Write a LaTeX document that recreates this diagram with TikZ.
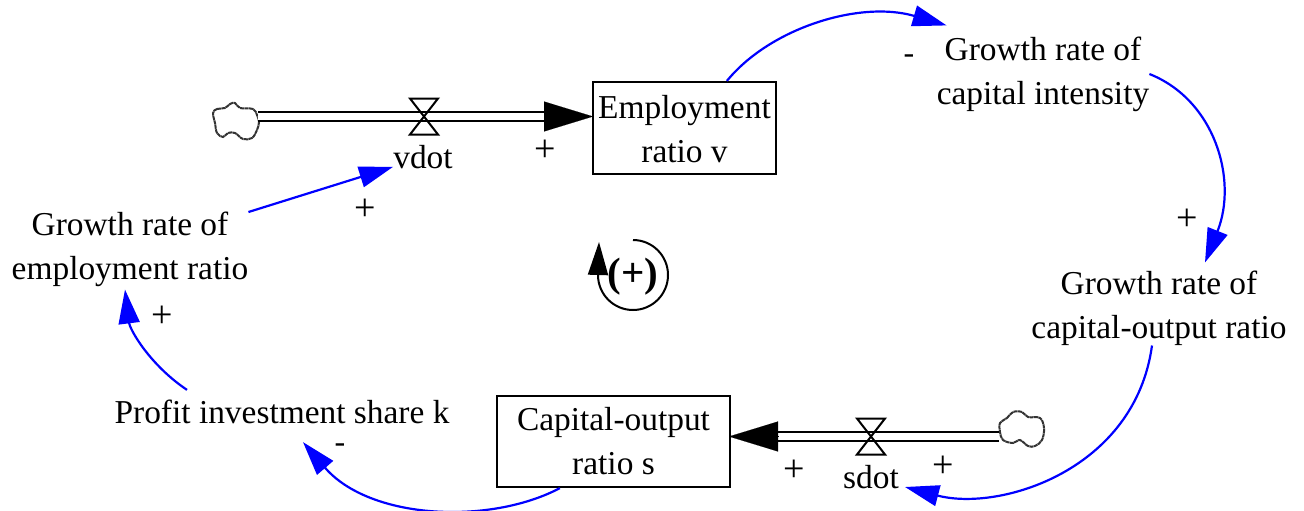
\documentclass[tikz,border=0pt]{standalone}
\usepackage{fontspec}
\setmainfont{Liberation Serif}
\usetikzlibrary{arrows.meta}
\tikzset{
  x=1pt,y=-1pt,
  lbl/.style={inner sep=0pt,align=center,font=\fontsize{33.4}{44}\selectfont},
  stock/.style={draw,line width=2.2pt,inner sep=0pt,align=center,font=\fontsize{33.4}{44}\selectfont},
  sign/.style={inner sep=0pt,font=\fontsize{38}{39}\selectfont},
  minus/.style={inner sep=0pt,font=\fontsize{32}{33}\selectfont},
  link/.style={draw={rgb,255:red,0;green,0;blue,255},line width=2.2pt,-{Triangle[length=34pt,width=21pt]}},
  pipe/.style={draw=black,line width=2.2pt,double=white,double distance=6.8pt},
  flowtip/.style={line width=.1pt,-{Triangle[length=49pt,width=30pt]}},
  valve/.style={draw,line width=2pt,line join=miter},
  cloudline/.style={draw=black!80,line width=2pt,dash pattern=on 4pt off .5pt,smooth cycle,tension=.6}
}
\begin{document}
\begin{tikzpicture}
\useasboundingbox (0,0) rectangle (1304,511);
% stocks
\node[stock,minimum width=183pt,minimum height=92pt] (emp) at (684.5,128) {\rule{0pt}{26pt}Employment\\ratio v};
\node[stock,minimum width=233pt,minimum height=91pt] (cap) at (613.5,441.5) {Capital-output\\ratio s};
% labels
\node[lbl] (capint) at (1043,74) {Growth rate of\\capital intensity};
\node[lbl] (outr) at (1159,308) {Growth rate of\\capital-output ratio};
\node[lbl] (empr) at (130,249) {Growth rate of\\employment ratio};
\node[lbl] (k) at (282,412) {Profit investment share k};
\node[lbl] (vdot) at (423,157) {vdot};
\node[lbl] (sdot) at (871,477) {sdot};
% flow end points
\coordinate (cloudA) at (258,116.5);
\coordinate (empin) at (593,116.5);
\coordinate (cloudB) at (999,436.5);
\coordinate (capin) at (729,436.5);
\coordinate (valveA) at (424,116.5);
\coordinate (valveB) at (871,436.5);
% clouds
\draw[cloudline] plot coordinates {(213,113) (217,109) (225,108) (230,104) (235,103) (240,108) (253,109) (257,115) (259,122) (257,130) (252,138) (243,139) (235,133) (228,133) (223,137) (217,133) (215,123)};
\draw[cloudline] plot coordinates {(1000,423) (1007,418) (1013,412) (1022,412) (1028,417) (1040,418) (1044,428) (1042,440) (1035,446) (1028,446) (1020,440) (1013,443) (1003,440) (1000,432)};
% flows
\draw[pipe,shorten >=47pt] (cloudA) -- (empin);
\draw[flowtip] ([xshift=-49pt]empin) -- (empin);
\draw[pipe,shorten >=47pt] (cloudB) -- (capin);
\draw[flowtip] ([xshift=49pt]capin) -- (capin);
% valves
\draw[valve] ([shift={(-14,-18)}]valveA) -- ([shift={(14,-18)}]valveA) -- ([shift={(-14,18)}]valveA) -- ([shift={(14,18)}]valveA) -- cycle;
\draw[valve] ([shift={(-14,-18)}]valveB) -- ([shift={(14,-18)}]valveB) -- ([shift={(-14,18)}]valveB) -- ([shift={(14,18)}]valveB) -- cycle;
% causal links
\draw[link] (emp.48) .. controls (770,28) and (860,0) .. ([shift={(10,-11)}]capint.north west);
\draw[link] (capint.east) .. controls (1215,100) and (1238,180) .. ([shift={(46,-8)}]outr.north);
\draw[link] ([shift={(-7,0)}]outr.south) .. controls (1135,470) and (1000,512) .. ([shift={(6,10)}]sdot.east);
\draw[link] (cap.-139) .. controls (490,525) and (370,520) .. ([shift={(21,18)}]k.south);
\draw[link] ([shift={(-95,-10)}]k.north) .. controls (150,365) and (130,330) .. ([shift={(-5,3)}]empr.south);
\draw[link] ([shift={(129,-38)}]empr) -- ([shift={(-38,10)}]vdot);
% signs
\node[minus] (s1) at (909,59) {-};
\node[sign] (s2) at (1187,220) {+};
\node[sign] (s3) at (943,467) {+};
\node[sign] (s4) at (794,471) {+};
\node[minus] (s5) at (340,448) {-};
\node[sign] (s6) at (162,317) {+};
\node[sign] (s7) at (365,210) {+};
\node[sign] (s8) at (545,151) {+};
% loop
\node[inner sep=0pt,font=\fontsize{41}{42}\selectfont\bfseries] (loop) at (633,277) {(+)};
\draw[line width=2pt,-{Triangle[length=33pt,width=20pt]}] (633,240) arc[start angle=-90,end angle=180,radius=35] -- (599,242);
\end{tikzpicture}
\end{document}
